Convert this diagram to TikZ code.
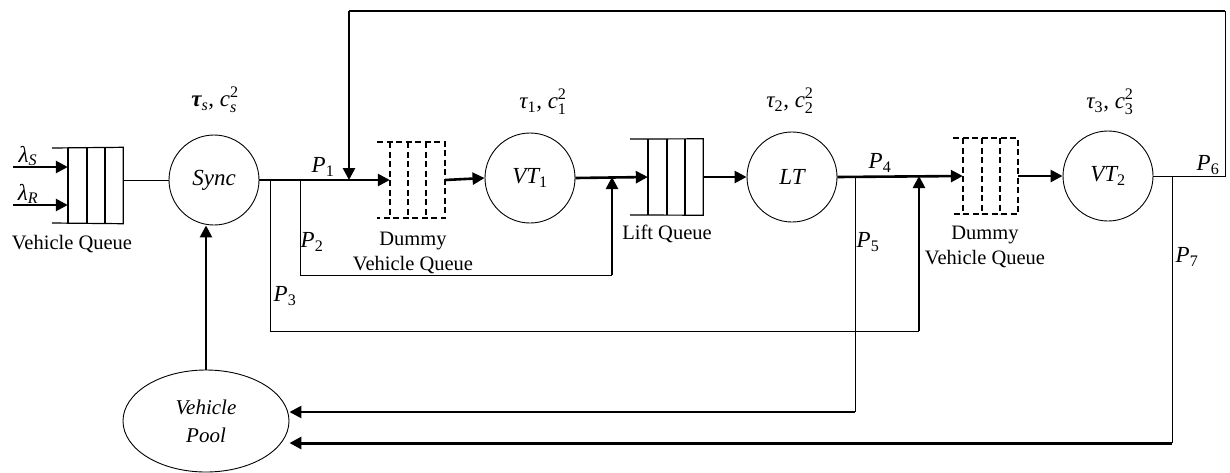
\documentclass[tikz,border=0pt]{standalone}
\usepackage{amsmath,bm}
\usepackage{fontspec}
\setmainfont{Liberation Serif}
\usetikzlibrary{arrows.meta,shapes.geometric}
\newcommand{\gtau}{\text{\itshape τ}}
\newcommand{\mcomma}{\text{, }}
\begin{document}
\begin{tikzpicture}[x=1pt,y=-1pt,
 lbl/.style={font=\fontsize{20.5}{25}\selectfont, inner sep=0pt},
 mlbl/.style={font=\fontsize{23}{25}\selectfont, inner sep=0pt},
 srv/.style={circle, draw, line width=0.9pt, minimum size=90pt, inner sep=0pt, font=\fontsize{23}{25}\selectfont\itshape},
 qnode/.style={rectangle, inner sep=0pt, minimum width=55pt, minimum height=76pt},
 thk/.style={line width=2.6pt},
 thn/.style={line width=1pt},
 arr/.style={-{Triangle[length=12pt,width=12pt]}},
 qline/.style={line width=1.2pt},
 dq/.style={line width=1.8pt, dash pattern=on 6pt off 3.5pt},
]
\useasboundingbox[fill=white] (0,0) rectangle (1230,472);

% servers
\node[srv] (sync) at (214,180) {Sync};
\node[srv] (vt1) at (530,178) {VT\textsubscript{\upshape 1}};
\node[srv] (lt) at (792,177) {LT};
\node[srv] (vt2) at (1108,176) {VT\textsubscript{\upshape 2}};
\node[ellipse, draw, line width=0.9pt, minimum width=166pt, minimum height=102pt, inner sep=0pt, align=center, font=\fontsize{21}{28}\selectfont\itshape] (pool) at (206,421) {Vehicle\\Pool};

% queues
\node[qnode] (vq) at (95.5,185.5) {};
\draw[qline] (52,148) -- (vq.north east) -- (vq.south east) -- (52,223);
\foreach \x in {68,87,105} \draw[qline] (\x,148) -- (\x,223);

\node[qnode] (dq1) at (417.5,180) {};
\draw[dq] (377,142) -- (445,142) -- (445,218) -- (377,218);
\foreach \x in {390,408,426} \draw[dq] (\x,142) -- (\x,218);

\node[qnode] (lq) at (675.5,177) {};
\draw[qline] (630,139) -- (lq.north east) -- (lq.south east) -- (630,215);
\foreach \x in {648,667,685} \draw[qline] (\x,139) -- (\x,215);

\node[qnode] (dq2) at (990.5,176) {};
\draw[dq] (953,138) -- (1018,138) -- (1018,214) -- (953,214);
\foreach \x in {963,982,1000} \draw[dq] (\x,138) -- (\x,214);

% coordinates
\coordinate (ls) at (13,167);
\coordinate (lr) at (13,205);
\coordinate (s3) at (270,180);
\coordinate (s2) at (300,180);
\coordinate (j1) at (349,180);
\coordinate (t1) at (349,11);
\coordinate (t6) at (1225,11);
\coordinate (c6) at (1225,176);
\coordinate (c2a) at (300,275);
\coordinate (c2b) at (612,275);
\coordinate (j2) at (612,177);
\coordinate (c3a) at (270,331);
\coordinate (c3b) at (919,331);
\coordinate (j3) at (919,176);
\coordinate (s5) at (855,177);
\coordinate (c5) at (855,412);
\coordinate (s7) at (1172,176);
\coordinate (c7) at (1172,443);

% inputs
\draw[thk,arr] (ls) -- (vq.west |- ls);
\draw[thk,arr] (lr) -- (vq.west |- lr);
\draw[thn] (vq.east |- sync.west) -- (sync.west);

% main line
\draw[thk,arr] (sync.east) -- (dq1.west);
\draw[thk,arr] (dq1.east) -- (vt1.west);
\draw[thk,arr] (vt1.east) -- (lq.west);
\draw[thk,arr] (lq.east) -- (lt.west);
\draw[thk,arr] (lt.east) -- (dq2.west);
\draw[thk,arr] (dq2.east) -- (vt2.west);

% feedback P6
\draw[thn] (vt2.east) -- (c6) -- (t6);
\draw[line width=1.6pt] (t6) -- (t1);
\draw[thk,arr] (t1) -- (j1);

% P2
\draw[thn] (s2) -- (c2a) -- (c2b);
\draw[thk,arr] (c2b) -- (j2);
% P3
\draw[thn] (s3) -- (c3a) -- (c3b);
\draw[thk,arr] (c3b) -- (j3);
% P5
\draw[thn] (s5) -- (c5);
\draw[thk,arr] (c5) -- (pool.east |- c5);
% P7
\draw[thn] (s7) -- (c7);
\draw[line width=3pt,arr] (c7) -- (pool.east |- c7);
% pool to sync
\draw[thk,arr] (pool.north) -- (pool.north |- sync.south);

% labels
\node[mlbl] (lS) at (28,156) {$\text{\itshape λ}_{\mathit{S}}$};
\node[mlbl] (lR) at (28,194) {$\text{\itshape λ}_{\mathit{R}}$};
\node[lbl] (vql) at (72,244) {Vehicle Queue};
\node[lbl, align=center] (dq1l) at (413,253) {Dummy\\Vehicle Queue};
\node[lbl] (lql) at (667,234) {Lift Queue};
\node[lbl, align=center] (dq2l) at (985,247) {Dummy\\Vehicle Queue};
\node[mlbl] (tS) at (215,100) {$\text{\bfseries\itshape τ}_{\mathit{s}}\mcomma\mathit{c}_{\mathit{s}}^{\mathrm{2}}$};
\node[mlbl] (t1l) at (543,102) {$\gtau_{\mathrm{1}}\mcomma\mathit{c}_{\mathrm{1}}^{\mathrm{2}}$};
\node[mlbl] (t2l) at (790,101) {$\gtau_{\mathrm{2}}\mcomma\mathit{c}_{\mathrm{2}}^{\mathrm{2}}$};
\node[mlbl] (t3l) at (1110,102) {$\gtau_{\mathrm{3}}\mcomma\mathit{c}_{\mathrm{3}}^{\mathrm{2}}$};
\node[mlbl] (p1) at (323,167) {$\mathit{P}_{\mathrm{1}}$};
\node[mlbl] (p2) at (312,242) {$\mathit{P}_{\mathrm{2}}$};
\node[mlbl] (p3) at (285,296) {$\mathit{P}_{\mathrm{3}}$};
\node[mlbl] (p4) at (880,163) {$\mathit{P}_{\mathrm{4}}$};
\node[mlbl] (p5) at (868,242) {$\mathit{P}_{\mathrm{5}}$};
\node[mlbl] (p6) at (1208,165) {$\mathit{P}_{\mathrm{6}}$};
\node[mlbl] (p7) at (1187,257) {$\mathit{P}_{\mathrm{7}}$};
\end{tikzpicture}
\end{document}
